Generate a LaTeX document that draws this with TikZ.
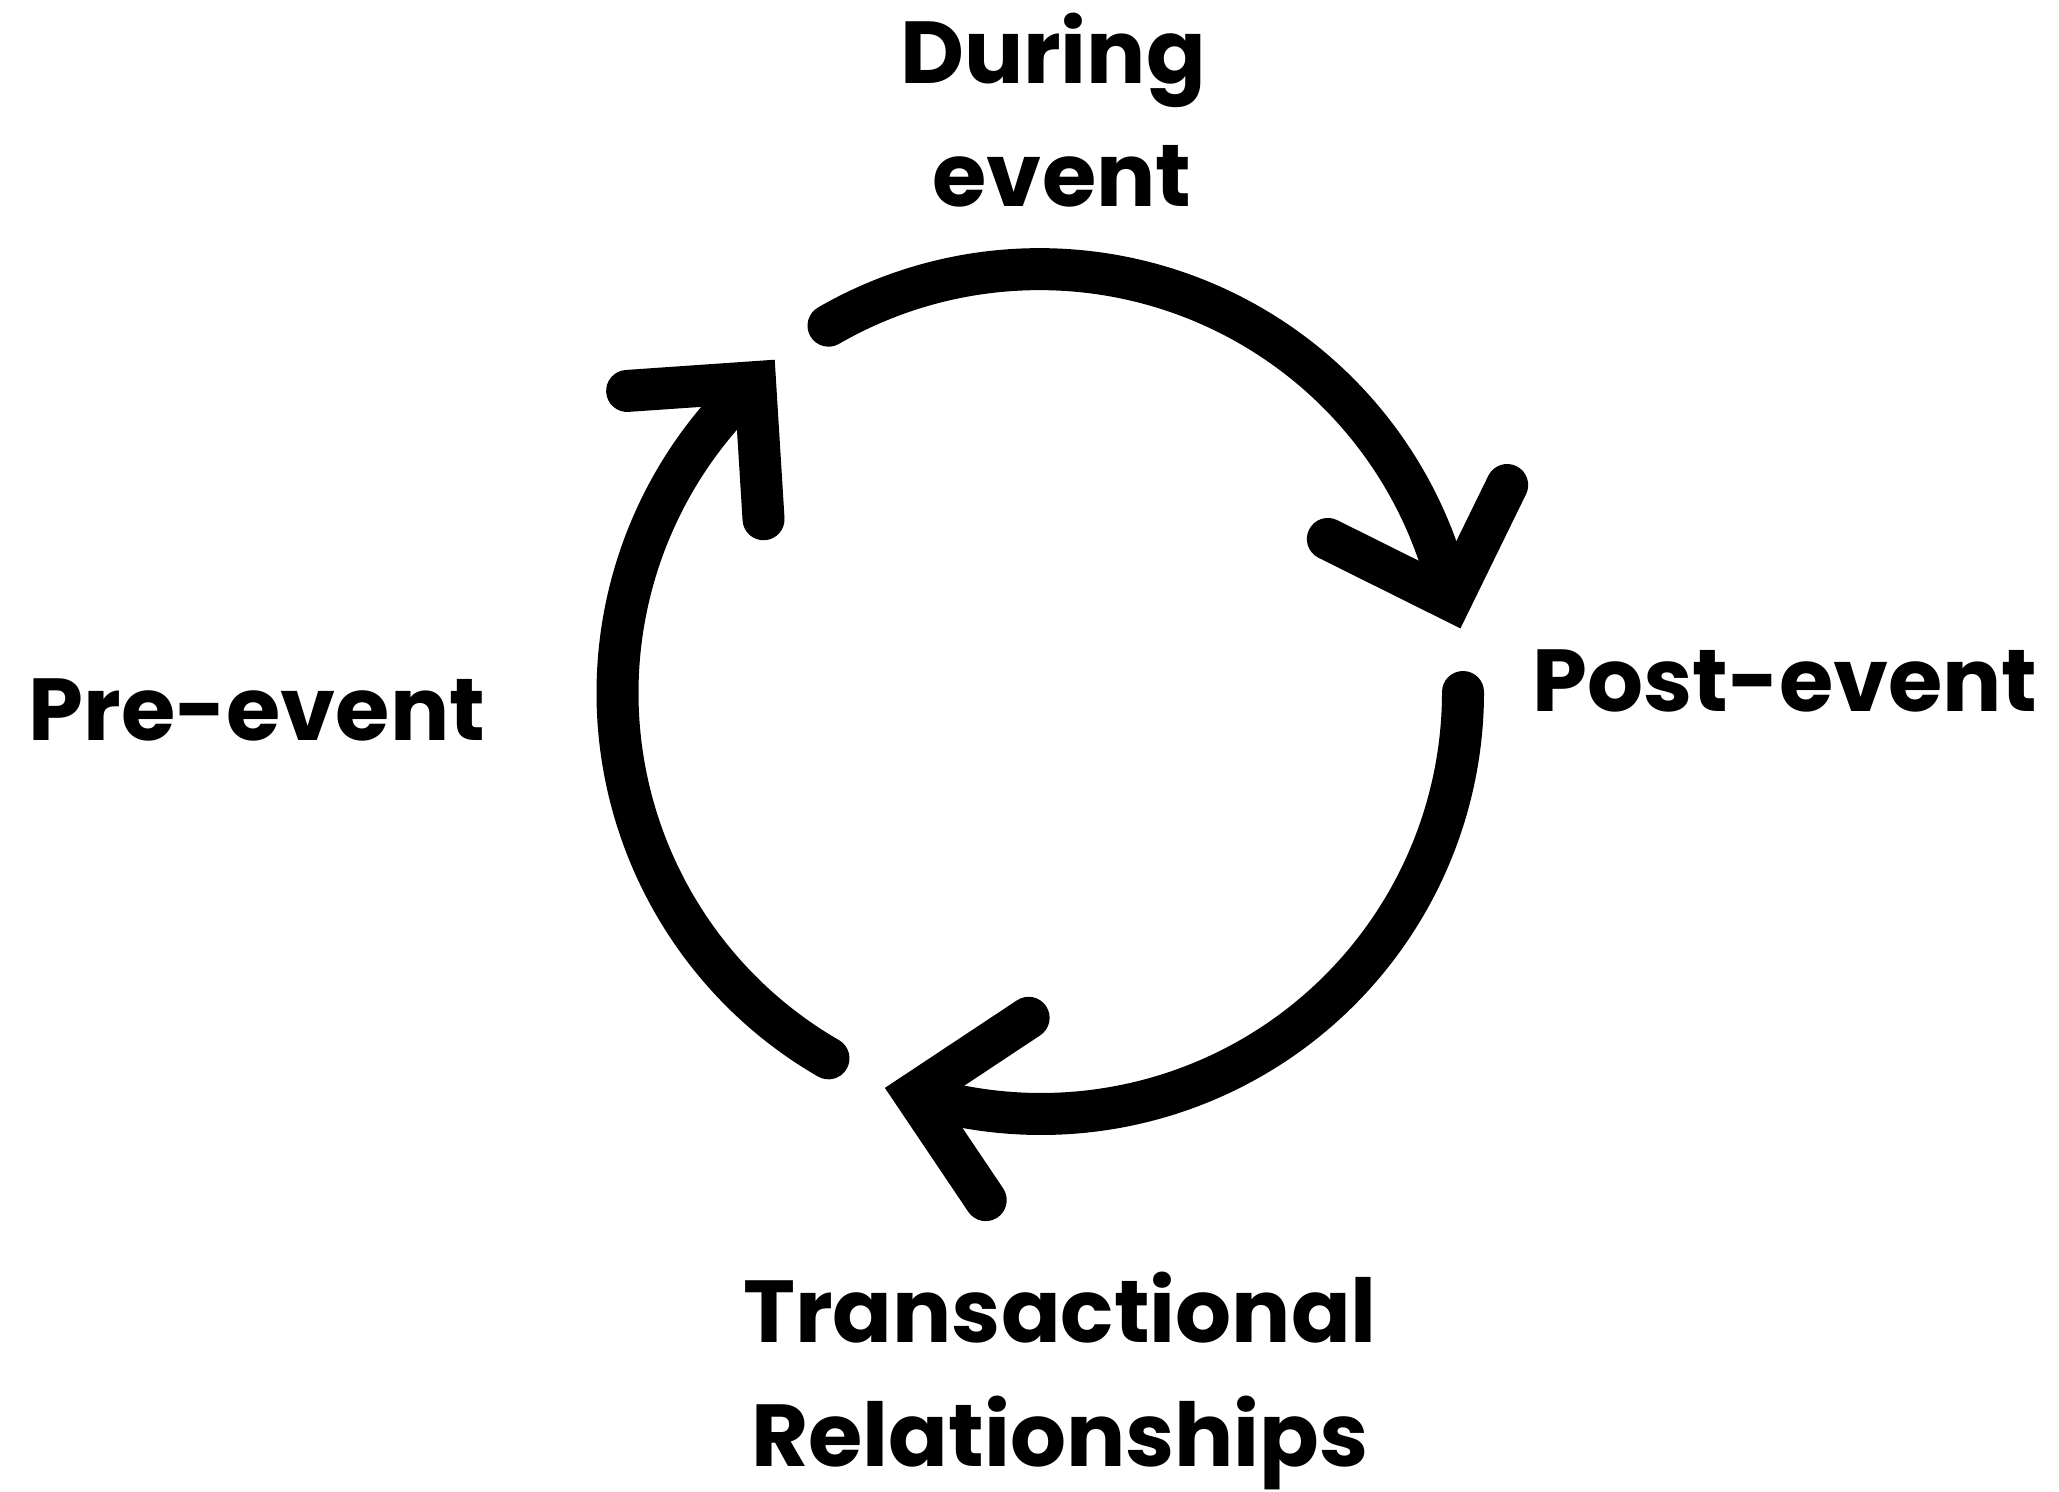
\documentclass[tikz,border=0pt]{standalone}
\usepackage{fontspec}
\setmainfont{Poppins}
\usetikzlibrary{calc}
\begin{document}
\begin{tikzpicture}[x=0.5pt,y=-0.5pt,
  loop/.style={line width=21pt, line cap=round, line join=miter},
  lbl/.style={font=\fontsize{44}{61.75}\selectfont\bfseries, inner sep=0pt, align=center}]
\fill[white] (0,0) rectangle (2059,1492);
\useasboundingbox (0,0) rectangle (2059,1492);
\coordinate (O) at (1040,692);
% three arcs of the cycle, each ending in an open right-angled V head
\foreach \k/\r in {0/0,1/120,2/240}{
  \coordinate (start\k) at ($(O)+(-120+\r:423)$);
  \coordinate (tip\k)   at ($(O)+(-12.6+\r:421)$);
  \coordinate (inner\k) at ($(O)+(-28.0+\r:326)$);
  \coordinate (outer\k) at ($(O)+(-23.9+\r:511)$);
  \draw[loop] (start\k) arc[start angle=-120+\r, end angle=-14.2+\r, radius=422];
  \draw[loop] (inner\k) -- (tip\k) -- (outer\k);
}
\node[lbl, anchor=base] (during) at (1053,207) {During\\\hspace*{9pt}event};
\node[lbl, anchor=base] (post) at (1785,711) {Post-event};
\node[lbl, anchor=base] (trans) at (1060,1466) {Transactional\\Relationships};
\node[lbl, anchor=base] (pre) at (257,740) {Pre-event};
\end{tikzpicture}
\end{document}
